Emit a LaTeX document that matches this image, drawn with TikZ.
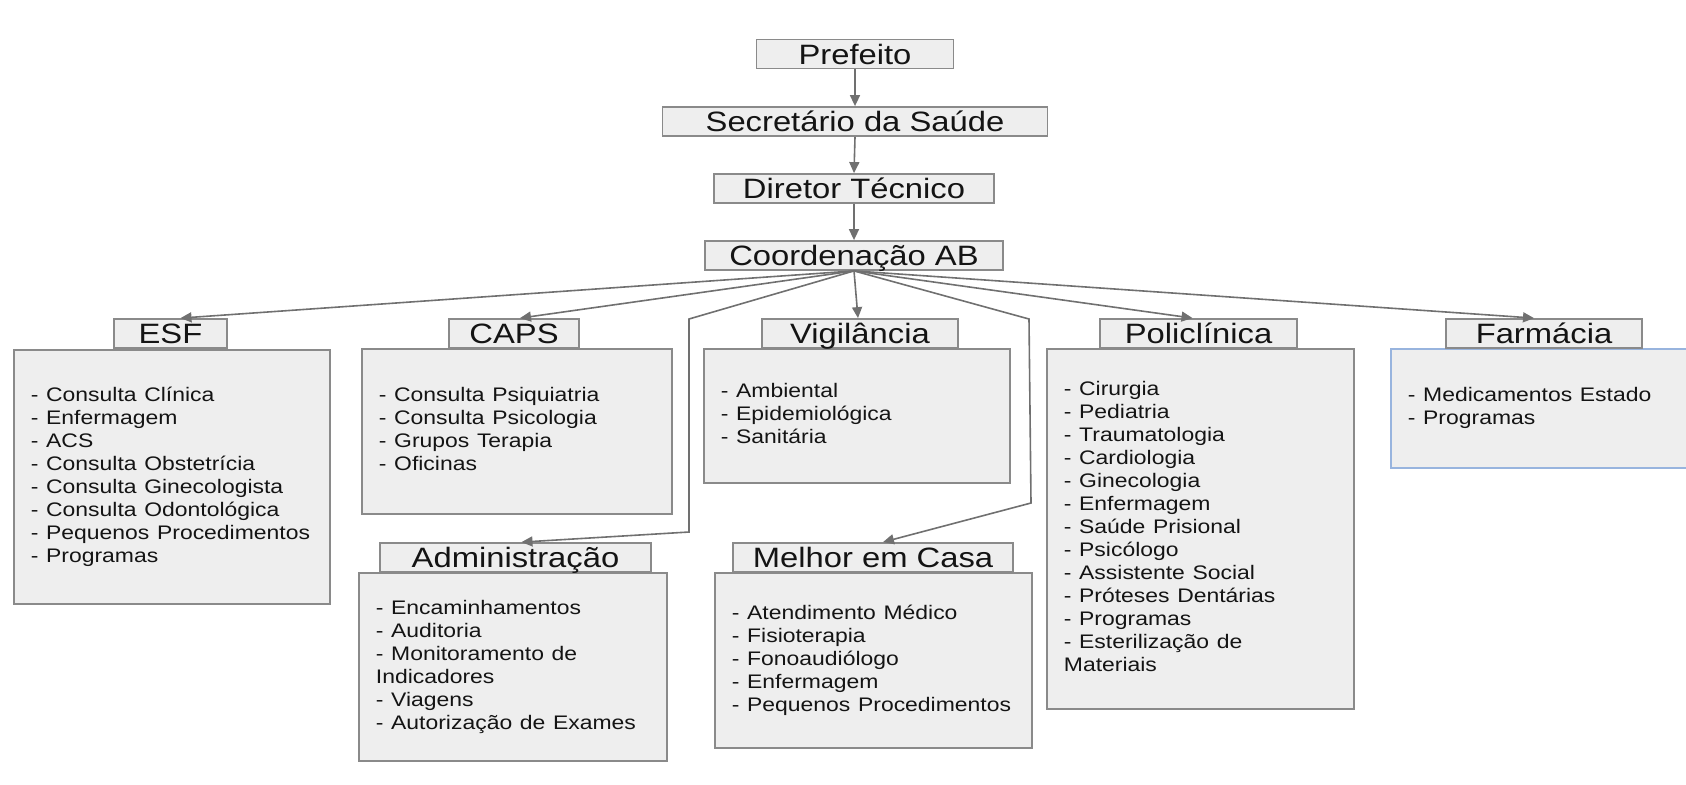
\documentclass[tikz,border=0pt]{standalone}
\usepackage{fontspec}
\setmainfont{Liberation Sans}
\usepackage{graphicx}
\usetikzlibrary{arrows.meta}
\definecolor{boxfill}{HTML}{EEEEEE}
\definecolor{boxline}{HTML}{8A8A8A}
\definecolor{linkgray}{HTML}{707070}
\definecolor{farmline}{HTML}{98B4DE}
\newcommand{\wide}[1]{\scalebox{1.17}[1]{#1}}
\newcommand{\itemlist}[1]{\wide{\begin{tabular}{@{}l@{}}#1\end{tabular}}}
\tikzset{
  hdr/.style={draw=boxline,fill=boxfill,line width=0.9pt,inner sep=0pt,minimum height=14.5pt,
    text height=10.2pt,text depth=0pt,font=\fontsize{14pt}{16pt}\selectfont,text=black!92}, % title box
  body/.style={draw=boxline,fill=boxfill,line width=0.9pt,anchor=north west,inner xsep=8.5pt,
    inner ysep=0pt,align=left,font=\fontsize{9.8pt}{11.5pt}\selectfont,text=black!92},     % list box
  link/.style={draw=linkgray,line width=0.8pt,-{Triangle[length=5.5pt,width=5pt]}},
}

\begin{document}
\begin{tikzpicture}[x=0.5pt,y=-0.5pt]
  \path[use as bounding box] (0,0) rectangle (1686,784);
  \clip (0,0) rectangle (1686,784);
  % top chain
  \node[hdr,minimum width=98.5pt] (pref) at (855,54) {\wide{Prefeito}};
  \node[hdr,minimum width=192.5pt] (secr) at (855,121.5) {\wide{Secretário da Saúde}};
  \node[hdr,minimum width=140pt] (dir) at (854,188.5) {\wide{Diretor Técnico}};
  \node[hdr,minimum width=149pt] (coord) at (854,255.5) {\wide{Coordenação AB}};
  % lists
  \node[body,text width=141pt,minimum height=127pt] (esfb) at (13,349) {\itemlist{- Consulta Clínica\\- Enfermagem\\- ACS\\- Consulta Obstetrícia\\- Consulta Ginecologista\\- Consulta Odontológica\\- Pequenos Procedimentos\\- Programas}};
  \node[body,text width=138pt,minimum height=82.5pt] (capsb) at (361,348) {\itemlist{- Consulta Psiquiatria\\- Consulta Psicologia\\- Grupos Terapia\\- Oficinas}};
  \node[body,text width=136pt,minimum height=67pt] (vigb) at (703,348) {\itemlist{- Ambiental\\- Epidemiológica\\- Sanitária}};
  \node[body,text width=136.5pt,minimum height=180pt] (polib) at (1046,348) {\itemlist{- Cirurgia\\- Pediatria\\- Traumatologia\\- Cardiologia\\- Ginecologia\\- Enfermagem\\- Saúde Prisional\\- Psicólogo\\- Assistente Social\\- Próteses Dentárias\\- Programas\\- Esterilização de\\Materiais}};
  \node[body,draw=farmline,text width=138pt,minimum height=59.5pt] (farmb) at (1390,348) {\itemlist{- Medicamentos Estado\\- Programas}};
  \node[body,text width=137pt,minimum height=94pt] (admb) at (358,572) {\itemlist{- Encaminhamentos\\- Auditoria\\- Monitoramento de\\Indicadores\\- Viagens\\- Autorização de Exames}};
  \node[body,text width=141.5pt,minimum height=87.5pt] (mecb) at (714,572) {\itemlist{- Atendimento Médico\\- Fisioterapia\\- Fonoaudiólogo\\- Enfermagem\\- Pequenos Procedimentos}};
  % titles
  \node[hdr,minimum width=56.5pt] (esf) at (170.5,333.5) {\wide{ESF}};
  \node[hdr,minimum width=65pt] (caps) at (514,333.5) {\wide{CAPS}};
  \node[hdr,minimum width=98pt] (vig) at (860,333.5) {\wide{Vigilância}};
  \node[hdr,minimum width=98.5pt] (poli) at (1198.5,333.5) {\wide{Policlínica}};
  \node[hdr,minimum width=98pt] (farm) at (1544,333.5) {\wide{Farmácia}};
  \node[hdr,minimum width=135.5pt] (adm) at (515.5,557.5) {\wide{Administração}};
  \node[hdr,minimum width=140pt] (mec) at (873,557.5) {\wide{Melhor em Casa}};
  % bends
  \coordinate (al1) at (689,319);
  \coordinate (al2) at (689,532);
  \coordinate (mr1) at (1029,319);
  \coordinate (mr2) at (1031,503);
  % links
  \draw[link] (pref.south) -- (secr.north);
  \draw[link] (secr.south) -- (dir.north);
  \draw[link] (dir.south) -- (coord.north);
  \draw[link] (coord.south) -- ([xshift=5pt]esf.north);
  \draw[link] (coord.south) -- ([xshift=3pt]caps.north);
  \draw[link] (coord.south) -- ([xshift=-1pt]vig.north);
  \draw[link] (coord.south) -- ([xshift=-3pt]poli.north);
  \draw[link] (coord.south) -- ([xshift=-5pt]farm.north);
  \draw[link] (coord.south) -- (al1) -- (al2) -- ([xshift=3pt]adm.north);
  \draw[link] (coord.south) -- (mr1) -- (mr2) -- ([xshift=5pt]mec.north);
\end{tikzpicture}
\end{document}
